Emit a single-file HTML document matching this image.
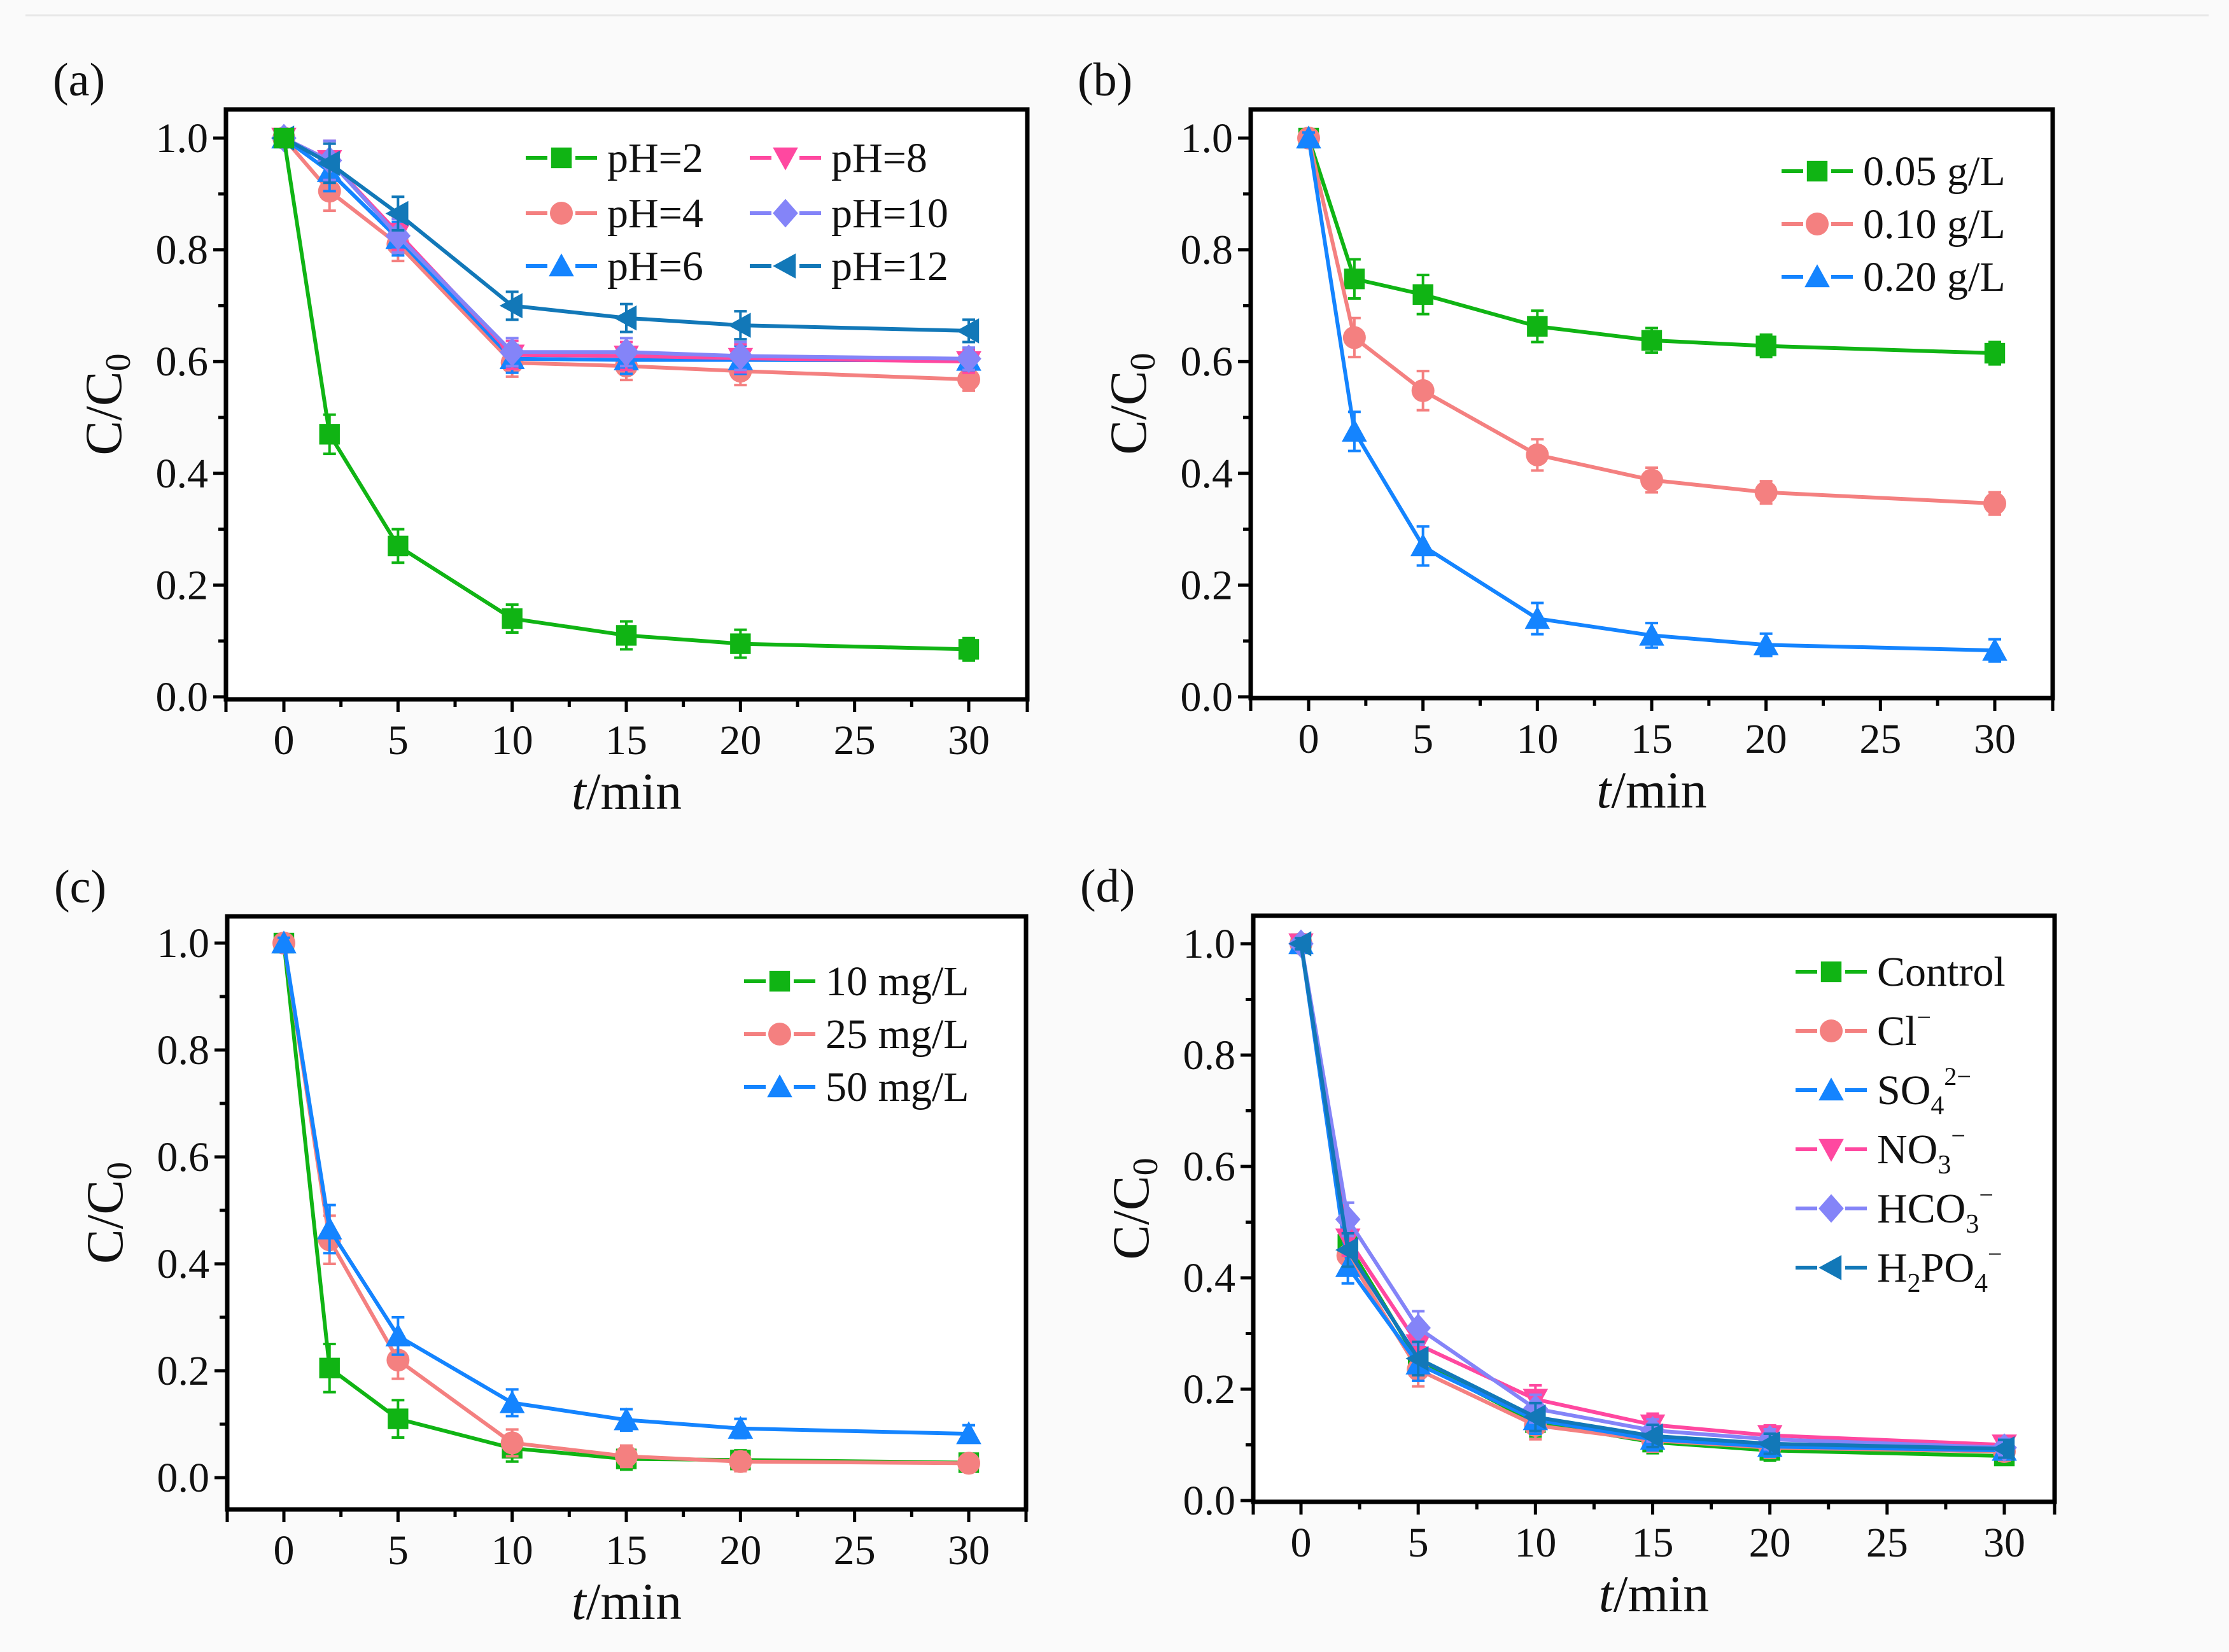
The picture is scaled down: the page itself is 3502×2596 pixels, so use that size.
<!DOCTYPE html>
<html><head><meta charset="utf-8"><style>
html,body{margin:0;padding:0;background:#fafafa;}
svg{display:block;}
svg text{font-family:"Liberation Serif","DejaVu Serif",serif;fill:#111;}
</style></head><body>
<svg id="fig" width="3502" height="2596" viewBox="0 0 3502 2596" xmlns="http://www.w3.org/2000/svg" font-family="Liberation Serif, DejaVu Serif, serif">
<rect x="0" y="0" width="3502" height="2596" fill="#fafafa"/>
<line x1="40" y1="24" x2="3470" y2="24" stroke="#e8e8e8" stroke-width="3"/>
</svg>
<script>
const xs = [0,2,5,10,15,20,30];
const xTicks = [0,5,10,15,20,25,30];
const yTicks = [0.0,0.2,0.4,0.6,0.8,1.0];
const yTickLabels = ["0.0","0.2","0.4","0.6","0.8","1.0"];

const aNames = ["pH=2","pH=4","pH=6","pH=8","pH=10","pH=12"];
const aPH2 = [1,0.47,0.27,0.14,0.11,0.095,0.085];
const aPH4 = [1,0.905,0.81,0.598,0.592,0.583,0.568];
const aPH6 = [1,0.94,0.82,0.605,0.603,0.603,0.602];
const aPH8 = [1,0.96,0.83,0.612,0.61,0.606,0.6];
const aPH10 = [1,0.96,0.825,0.617,0.617,0.61,0.605];
const aPH12 = [1,0.955,0.865,0.70,0.678,0.665,0.655];
const aErr = [0.01,0.035,0.03,0.025,0.025,0.025,0.02];

const bNames = ["0.05 g/L","0.10 g/L","0.20 g/L"];
const b005 = [1,0.748,0.72,0.663,0.638,0.628,0.615];
const b010 = [1,0.643,0.548,0.433,0.388,0.366,0.346];
const b020 = [1,0.475,0.27,0.14,0.11,0.093,0.083];
const bErr = [0.01,0.035,0.035,0.028,0.022,0.02,0.02];

const cNames = ["10 mg/L","25 mg/L","50 mg/L"];
const c10 = [1,0.205,0.11,0.055,0.035,0.033,0.028];
const c25 = [1,0.445,0.22,0.065,0.04,0.03,0.027];
const c50 = [1,0.465,0.265,0.14,0.108,0.092,0.082];
const cErr = [0.01,0.045,0.035,0.025,0.02,0.018,0.016];

const dCtrl = [1,0.46,0.25,0.14,0.105,0.09,0.08];
const dCl = [1,0.44,0.235,0.135,0.108,0.095,0.088];
const dSO4 = [1,0.42,0.245,0.145,0.11,0.097,0.09];
const dNO3 = [1,0.47,0.28,0.182,0.136,0.117,0.1];
const dHCO3 = [1,0.505,0.31,0.165,0.126,0.11,0.095];
const dH2PO4 = [1,0.45,0.255,0.15,0.116,0.102,0.093];
const dErr = [0.01,0.03,0.03,0.025,0.02,0.018,0.016];

const COL = {green:"#10b414",salmon:"#f48080",blue:"#1484ff",pink:"#ff48a0",lav:"#8484f8",steel:"#1278b8"};
const NS = "http://www.w3.org/2000/svg";
const svg = document.getElementById('fig');
const FF = "Liberation Serif, DejaVu Serif, serif";
function el(tag, attrs, parent){const e=document.createElementNS(NS,tag);for(const k in attrs)e.setAttribute(k,attrs[k]);if(tag==='text')e.setAttribute('font-family',FF);(parent||svg).appendChild(e);return e;}

function marker(g, shape, cx, cy, color, s){
  s = s||19;
  let m;
  if(shape==='square') m=el('rect',{x:cx-s*0.9,y:cy-s*0.9,width:s*1.8,height:s*1.8,fill:color},g);
  else if(shape==='circle') m=el('circle',{cx:cx,cy:cy,r:s,fill:color},g);
  else if(shape==='up') m=el('polygon',{points:`${cx},${cy-s*1.1} ${cx+s*1.1},${cy+s*0.9} ${cx-s*1.1},${cy+s*0.9}`,fill:color},g);
  else if(shape==='down') m=el('polygon',{points:`${cx},${cy+s*1.1} ${cx+s*1.1},${cy-s*0.9} ${cx-s*1.1},${cy-s*0.9}`,fill:color},g);
  else if(shape==='diamond') m=el('polygon',{points:`${cx},${cy-s*1.25} ${cx+s*1.1},${cy} ${cx},${cy+s*1.25} ${cx-s*1.1},${cy}`,fill:color},g);
  else if(shape==='left') m=el('polygon',{points:`${cx-s*1.1},${cy} ${cx+s*0.9},${cy-s*1.1} ${cx+s*0.9},${cy+s*1.1}`,fill:color},g);
  return m;
}

function panel(P){
  const g = el('g',{});
  
  
  const X = v => P.x0 + (P.x30-P.x0)*v/30;
  const Y = v => P.y0 - (P.y0-P.y1)*v;
  el('rect',{x:P.L,y:P.T,width:P.R-P.L,height:P.B-P.T,fill:"#ffffff"},g);
  P.series.forEach(s=>{
    const sg = el('g',{},g);
    
    
    const pts = xs.map((x,i)=>X(x)+','+Y(s.v[i])).join(' ');
    el('polyline',{points:pts,fill:'none',stroke:s.c,'stroke-width':6,'stroke-linejoin':'round'},sg);
    xs.forEach((x,i)=>{
      const e=P.err[i], cx=X(x);
      el('path',{d:`M${cx},${Y(s.v[i]+e)}V${Y(s.v[i]-e)}M${cx-10},${Y(s.v[i]+e)}h20M${cx-10},${Y(s.v[i]-e)}h20`,stroke:s.c,'stroke-width':4,fill:'none'},sg);
      const m=marker(sg,s.shape,cx,Y(s.v[i]),s.c,18);
      
      
    });
  });
  el('rect',{x:P.L,y:P.T,width:P.R-P.L,height:P.B-P.T,fill:'none',stroke:'#000','stroke-width':7},g);
  for(let v=0; v<=30.01; v+=2.5){
    const major = Math.abs(v%5)<0.01;
    el('line',{x1:X(v),y1:P.B,x2:X(v),y2:P.B+(major?20:12),stroke:'#000','stroke-width':5},g);
  }
  el('line',{x1:P.L,y1:P.B,x2:P.L,y2:P.B+20,stroke:'#000','stroke-width':5},g);
  el('line',{x1:P.R,y1:P.B,x2:P.R,y2:P.B+20,stroke:'#000','stroke-width':5},g);
  xTicks.forEach(v=>{
    const t=el('text',{x:X(v),y:P.B+86,'font-size':66,'text-anchor':'middle'},g);
    t.textContent=v;
    
    
  });
  for(let v=0; v<=1.001; v+=0.1){
    const major = Math.round(v*10)%2===0;
    el('line',{x1:P.L,y1:Y(v),x2:P.L-(major?20:12),y2:Y(v),stroke:'#000','stroke-width':5},g);
  }
  yTicks.forEach((v,i)=>{
    const t=el('text',{x:P.L-28,y:Y(v)+22,'font-size':66,'text-anchor':'end'},g);
    t.textContent=yTickLabels[i];
    
    
  });
  const xt=el('text',{x:(P.L+P.R)/2,y:P.B+172,'font-size':82,'text-anchor':'middle'},g);
  xt.innerHTML='<tspan font-style="italic">t</tspan>/min';
  
  
  const cy=(P.T+P.B)/2;
  const yt=el('text',{x:0,y:0,'font-size':82,'text-anchor':'middle',transform:`translate(${P.L-165},${cy}) rotate(-90)`},g);
  yt.innerHTML='C/C<tspan font-size="56" dy="14">0</tspan>';
  
  
  const pl=el('text',{x:P.L-272,y:P.T-22,'font-size':74},g);
  pl.textContent=P.label;
  
  
  P.legend.forEach(it=>{
    const lg=el('g',{},g);
    
    
    el('line',{x1:it.x-56,y1:it.y,x2:it.x-22,y2:it.y,stroke:it.c,'stroke-width':6},lg);
    el('line',{x1:it.x+22,y1:it.y,x2:it.x+56,y2:it.y,stroke:it.c,'stroke-width':6},lg);
    marker(lg,it.shape,it.x,it.y,it.c,18);
    const t=el('text',{x:it.x+72,y:it.y+22,'font-size':66},lg);
    t.innerHTML=it.html;
  });
}

const sup = (s)=>`<tspan font-size="40" dy="-30">${s}</tspan>`;
const sub = (s)=>`<tspan font-size="42" dy="16">${s}</tspan>`;

panel({name:'panel-a',label:'(a)',L:355,R:1614,T:172,B:1099,x0:446,x30:1522,y0:1095,y1:217,err:aErr,
 series:[
  {key:'ph4',v:aPH4,c:COL.salmon,shape:'circle'},
  {key:'ph6',v:aPH6,c:COL.blue,shape:'up'},
  {key:'ph8',v:aPH8,c:COL.pink,shape:'down'},
  {key:'ph10',v:aPH10,c:COL.lav,shape:'diamond'},
  {key:'ph12',v:aPH12,c:COL.steel,shape:'left'},
  {key:'ph2',v:aPH2,c:COL.green,shape:'square'}],
 legend:[
  {x:882,y:248,c:COL.green,shape:'square',html:aNames[0]},
  {x:882,y:335,c:COL.salmon,shape:'circle',html:aNames[1]},
  {x:882,y:418,c:COL.blue,shape:'up',html:aNames[2]},
  {x:1234,y:248,c:COL.pink,shape:'down',html:aNames[3]},
  {x:1234,y:335,c:COL.lav,shape:'diamond',html:aNames[4]},
  {x:1234,y:418,c:COL.steel,shape:'left',html:aNames[5]}]});

panel({name:'panel-b',label:'(b)',L:1965,R:3225,T:172,B:1097,x0:2056,x30:3134,y0:1095,y1:217,err:bErr,
 series:[
  {key:'005',v:b005,c:COL.green,shape:'square'},
  {key:'010',v:b010,c:COL.salmon,shape:'circle'},
  {key:'020',v:b020,c:COL.blue,shape:'up'}],
 legend:[
  {x:2855,y:269,c:COL.green,shape:'square',html:bNames[0]},
  {x:2855,y:352,c:COL.salmon,shape:'circle',html:bNames[1]},
  {x:2855,y:435,c:COL.blue,shape:'up',html:bNames[2]}]});

panel({name:'panel-c',label:'(c)',L:357,R:1612,T:1440,B:2372,x0:446,x30:1522,y0:2322,y1:1482,err:cErr,
 series:[
  {key:'10',v:c10,c:COL.green,shape:'square'},
  {key:'25',v:c25,c:COL.salmon,shape:'circle'},
  {key:'50',v:c50,c:COL.blue,shape:'up'}],
 legend:[
  {x:1225,y:1542,c:COL.green,shape:'square',html:cNames[0]},
  {x:1225,y:1625,c:COL.salmon,shape:'circle',html:cNames[1]},
  {x:1225,y:1708,c:COL.blue,shape:'up',html:cNames[2]}]});

panel({name:'panel-d',label:'(d)',L:1969,R:3228,T:1439,B:2360,x0:2044,x30:3149,y0:2358,y1:1483,err:dErr,
 series:[
  {key:'control',v:dCtrl,c:COL.green,shape:'square'},
  {key:'cl',v:dCl,c:COL.salmon,shape:'circle'},
  {key:'so4',v:dSO4,c:COL.blue,shape:'up'},
  {key:'no3',v:dNO3,c:COL.pink,shape:'down'},
  {key:'hco3',v:dHCO3,c:COL.lav,shape:'diamond'},
  {key:'h2po4',v:dH2PO4,c:COL.steel,shape:'left'}],
 legend:[
  {x:2877,y:1527,c:COL.green,shape:'square',html:'Control'},
  {x:2877,y:1620,c:COL.salmon,shape:'circle',html:'Cl'+sup('−')},
  {x:2877,y:1713,c:COL.blue,shape:'up',html:'SO'+sub('4')+'<tspan font-size="40" dy="-46">2−</tspan>'},
  {x:2877,y:1806,c:COL.pink,shape:'down',html:'NO'+sub('3')+'<tspan font-size="40" dy="-46">−</tspan>'},
  {x:2877,y:1899,c:COL.lav,shape:'diamond',html:'HCO'+sub('3')+'<tspan font-size="40" dy="-46">−</tspan>'},
  {x:2877,y:1992,c:COL.steel,shape:'left',html:'H'+sub('2')+'<tspan dy="-16">PO</tspan>'+sub('4')+'<tspan font-size="40" dy="-46">−</tspan>'}]});
</script>
</body></html>
